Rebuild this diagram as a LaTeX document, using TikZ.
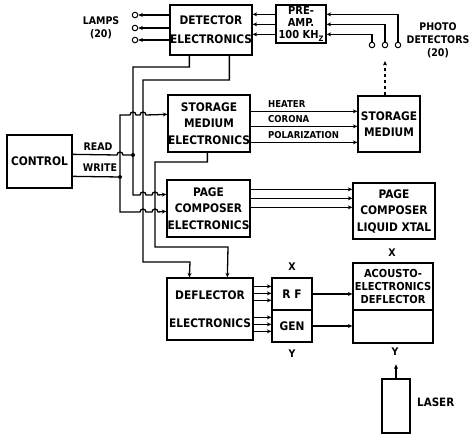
\documentclass[tikz,border=0pt]{standalone}
\usepackage{fontspec}
\setmainfont{DejaVu Sans Condensed}
\usetikzlibrary{arrows.meta, calc}
\tikzset{
  caja/.style    = {draw, line width=1.3pt, inner sep=0pt, align=center,
                    font=\bfseries\fontsize{11.8}{16.5}\selectfont},
  rotulo/.style  = {font=\bfseries\fontsize{10.5}{13}\selectfont, align=center, inner sep=0pt},
  linea/.style   = {line width=1.3pt},
  flecha/.style  = {line width=1.3pt, -{Stealth[length=4.5pt, width=4pt]}},
  borne/.style   = {circle, draw, line width=1pt, inner sep=0pt, minimum size=5.5pt},
  punto/.style   = {circle, fill, inner sep=0pt, minimum size=4pt}
}

\begin{document}
\begin{tikzpicture}[x=1pt, y=-1pt, >=Stealth]
  \useasboundingbox (0,0) rectangle (475,435);

  % bloques
  \node[caja, minimum width=82pt, minimum height=50pt, font=\bfseries\fontsize{11.8}{19}\selectfont] (det) at (211,30) {DETECTOR\\ELECTRONICS};
  \node[caja, minimum width=50pt, minimum height=38pt, font=\bfseries\fontsize{11}{12}\selectfont] (pre) at (301,24)
    {PRE-\\AMP.\\100 KH\raisebox{-2.5pt}{\fontsize{7.5}{7.5}\selectfont Z}};
  \node[caja, minimum width=82pt, minimum height=57pt] (sme) at (209,123.5) {STORAGE\\MEDIUM\\ELECTRONICS};
  \node[caja, minimum width=62pt, minimum height=56pt] (sm) at (389,124) {STORAGE\\MEDIUM};
  \node[caja, minimum width=65pt, minimum height=53pt] (ctrl) at (39.5,161.5) {CONTROL};
  \node[caja, minimum width=83pt, minimum height=57pt] (pce) at (208.5,208.5) {PAGE\\COMPOSER\\ELECTRONICS};
  \node[caja, minimum width=82pt, minimum height=56pt] (pclx) at (394,211) {PAGE\\COMPOSER\\LIQUID XTAL};
  \node[caja, minimum width=86pt, minimum height=62pt] (defl) at (210,309) {DEFLECTOR\\[12pt]ELECTRONICS};
  \node[caja, minimum width=40pt, minimum height=32pt] (rf) at (292,294) {R F};
  \node[caja, minimum width=40pt, minimum height=32pt] (gen) at (292,326) {GEN};
  \node[caja, minimum width=80pt, minimum height=47pt, font=\bfseries\fontsize{11}{13.5}\selectfont] (acup) at (393,286.5) {ACOUSTO-\\ELECTRONICS\\DEFLECTOR};
  \node[caja, minimum width=80pt, minimum height=33pt] (acdn) at (393,326.5) {};
  \node[caja, minimum width=28pt, minimum height=54pt] (laser) at (396,406) {};

  % rotulos
  \node[rotulo] (lamps) at (101,28) {LAMPS\\(20)};
  \node[rotulo] (photo) at (438,40) {PHOTO\\DETECTORS\\(20)};
  \node[rotulo] (read) at (98,147) {READ};
  \node[rotulo] (write) at (100,168) {WRITE};
  \node[rotulo, anchor=west, font=\bfseries\fontsize{9.5}{11}\selectfont] (heater) at (268,104) {HEATER};
  \node[rotulo, anchor=west, font=\bfseries\fontsize{9.5}{11}\selectfont] (corona) at (268,119) {CORONA};
  \node[rotulo, anchor=west, font=\bfseries\fontsize{9.5}{11}\selectfont] (polar) at (268,135) {POLARIZATION};
  \node[rotulo] (xrf) at (292,267) {X};
  \node[rotulo] (ygen) at (292,354) {Y};
  \node[rotulo] (xac) at (392,253) {X};
  \node[rotulo] (yac) at (395,352) {Y};
  \node[rotulo, anchor=west, font=\bfseries\fontsize{11.5}{13}\selectfont] (las) at (417,402) {LASER};

  % bornes
  \foreach \i/\y in {1/15,2/28,3/40}
    \node[borne] (l\i) at (135,\y) {};
  \foreach \i/\x in {1/372,2/385,3/398}
    \node[borne] (p\i) at (\x,45) {};
  \node[punto] (jr) at (133,155) {};
  \node[punto] (jw) at (120,177) {};

  % detector y preamplificador
  \foreach \i in {1,2,3}
    \draw[flecha] (det.west |- l\i) -- (l\i.east);
  \foreach \dy in {10,20,30}
    \draw[flecha] ($(pre.north west)+(0,\dy)$) -- ($(det.north east)+(0,\dy)$);
  \draw[flecha] (p3.north) |- ($(pre.north east)+(0,10)$);
  \draw[flecha] (p2.north) |- ($(pre.north east)+(0,20)$);
  \draw[flecha] (p1.north) |- ($(pre.north east)+(0,30)$);
  \draw[flecha, dashed] (sm.north -| p2) -- ($(p2)+(0,16)$);

  % medio de almacenamiento
  \foreach \dy in {17,32,48}
    \draw[flecha] ($(sme.north east)+(0,\dy)$) -- ($(sme.north east -| sm.west)+(0,\dy)$);

  % compositor de pagina
  \foreach \dy in {10,19,28}
    \draw[flecha] ($(pce.north east)+(0,\dy)$) -- ($(pce.north east -| pclx.west)+(0,\dy)$);

  % deflector
  \foreach \dy in {9,16,23,40,47,54}
    \draw[flecha] ($(defl.north east)+(0,\dy)$) -- ($(defl.north east -| rf.west)+(0,\dy)$);
  \draw[flecha] (rf.east) -- (acup.west |- rf.east);
  \draw[flecha] (gen.east) -- (acdn.west |- gen.east);
  \draw[flecha] (laser.north) -- ++(0,-14);

  % buses de control
  \draw[linea] ($(ctrl.north east)+(0,20)$) -- (117,155)
    arc[start angle=180, end angle=360, radius=3] -- (jr);
  \draw[linea] ($(ctrl.north east)+(0,42)$) -- (jw);
  \draw[flecha] (jw) -- (120,115) -- (130,115)
    arc[start angle=180, end angle=360, radius=3] -- (140,115)
    arc[start angle=180, end angle=360, radius=3] -- ($(sme.north west)+(0,20)$);
  \draw[flecha] (jw) -- (120,212) -- (140,212)
    arc[start angle=180, end angle=360, radius=3] -- (152,212)
    arc[start angle=180, end angle=360, radius=3] -- ($(pce.north west)+(0,32)$);
  \draw[flecha] ($(det.south west)+(20,0)$) |- (133,67) -- (133,195) -- (140,195)
    arc[start angle=180, end angle=360, radius=3] -- (152,195)
    arc[start angle=180, end angle=360, radius=3] -- ($(pce.north west)+(0,15)$);
  \draw[flecha] ($(det.south west)+(60,0)$) |- (143,80) |- (190,262)
    -- ($(defl.north west)+(23,0)$);
  \draw[flecha] ($(sme.south west)+(40,0)$) |- (155,162) |- (228,247)
    -- ($(defl.north west)+(61,0)$);
\end{tikzpicture}
\end{document}
